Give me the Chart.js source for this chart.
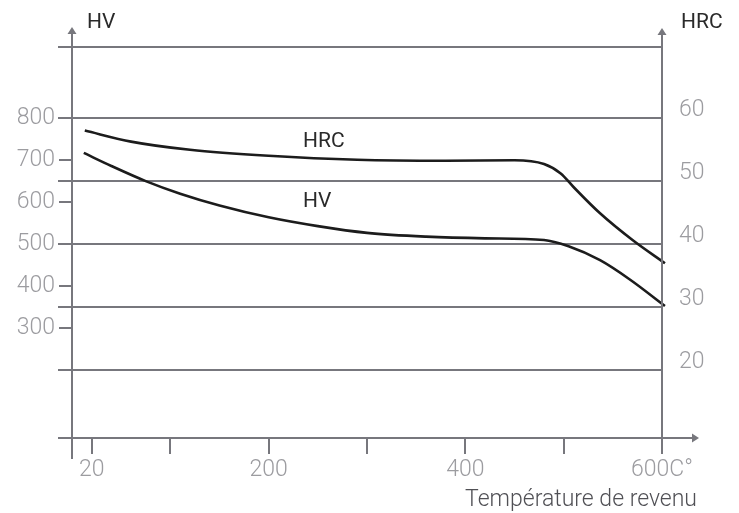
<!DOCTYPE html>
<html>
<head>
<meta charset="utf-8">
<script src="https://cdn.jsdelivr.net/npm/chart.js@4"></script>
<style>
  html, body { margin: 0; padding: 0; background: #fff; }
  canvas { display: block; }
</style>
</head>
<body>
<canvas id="chart" width="739" height="513"></canvas>
<script>
// HRC curve (right axis)
const hrcTemps  = [13, 60, 120, 200, 290, 380, 450, 480, 497, 510, 537, 570, 603];
const hrcValues = [58.0, 56.25, 54.95, 54.0, 53.37, 53.22, 53.3, 52.7, 51.2, 49.05, 44.87, 40.63, 36.94];

// HV curve (left axis)
const hvTemps  = [12, 40, 75, 110, 150, 200, 250, 300, 360, 420, 480, 505, 537, 568, 603];
const hvValues = [717, 686, 650, 620, 592, 564, 543, 527, 518, 514, 510, 495, 462, 415, 353];

// axis ticks
const xTicks = [20, 100, 200, 300, 400, 500, 600];
const xLabels = ['20', '', '200', '', '400', '', '600C°'];
const hvTicks = [300, 400, 500, 600, 700, 800];
const hrcTicks = [20, 30, 40, 50, 60];

// where the curve names sit (temperature, value)
const hrcNameAt = { x: 235, y: 55.44 };
const hvNameAt = { x: 235, y: 588 };

const AXIS = '#77777d';
const LABEL = '#9c9ca0';
const INK = '#1c1c1c';
const FONT = 'Roboto, "Open Sans", "DejaVu Sans", sans-serif';

function arrow(ctx, x, y, dir) {
    ctx.beginPath();
    if (dir === 'up') {
        ctx.moveTo(x, y);
        ctx.lineTo(x - 4.5, y + 7);
        ctx.lineTo(x + 4.5, y + 7);
    } else {
        ctx.moveTo(x, y);
        ctx.lineTo(x - 7, y - 4.5);
        ctx.lineTo(x - 7, y + 4.5);
    }
    ctx.closePath();
    ctx.fill();
}

// Axis lines, arrows, grid stubs and free text
const frame = {
    id: 'frame',
    afterDraw(chart) {
        const ctx = chart.ctx;
        const area = chart.chartArea;
        const x = chart.scales.x;
        const hrc = chart.scales.hrc;
        const hv = chart.scales.hv;
        const x0 = x.getPixelForValue(0);
        const x600 = x.getPixelForValue(600);

        ctx.save();
        ctx.strokeStyle = AXIS;
        ctx.fillStyle = AXIS;
        ctx.lineWidth = 2;

        // grid stubs to the left of the HV axis
        hrc.ticks.forEach(t => {
            const y = hrc.getPixelForValue(t.value);
            ctx.beginPath();
            ctx.moveTo(58, y);
            ctx.lineTo(area.left, y);
            ctx.stroke();
        });

        // vertical axes
        ctx.beginPath();
        ctx.moveTo(x0, area.bottom + 21);
        ctx.lineTo(x0, area.top - 18);
        ctx.moveTo(x600, area.bottom);
        ctx.lineTo(x600, area.top - 17);
        // horizontal axis
        ctx.moveTo(58, area.bottom);
        ctx.lineTo(692, area.bottom);
        ctx.stroke();

        arrow(ctx, x0, area.top - 20, 'up');
        arrow(ctx, x600, area.top - 19, 'up');
        arrow(ctx, 699, area.bottom, 'right');

        // titles
        ctx.fillStyle = '#2a2a2a';
        ctx.font = '400 21px ' + FONT;
        ctx.textBaseline = 'alphabetic';
        ctx.textAlign = 'left';
        ctx.fillText('HV', 87, 28);
        ctx.fillText('HRC', 681, 28);

        ctx.fillText('HRC', x.getPixelForValue(hrcNameAt.x), hrc.getPixelForValue(hrcNameAt.y));
        ctx.fillText('HV', x.getPixelForValue(hvNameAt.x), hv.getPixelForValue(hvNameAt.y));

        ctx.fillStyle = '#505055';
        ctx.font = '300 23px ' + FONT;
        ctx.textAlign = 'right';
        ctx.fillText('Température de revenu', 697, 506);
        ctx.restore();
    }
};

function toPoints(xs, ys) {
    return xs.map((t, i) => ({ x: t, y: ys[i] }));
}

new Chart(document.getElementById('chart'), {
    type: 'line',
    data: {
        datasets: [{
            label: 'HRC',
            data: toPoints(hrcTemps, hrcValues),
            yAxisID: 'hrc',
            borderColor: INK,
            borderWidth: 2.6,
            pointRadius: 0,
            cubicInterpolationMode: 'monotone',
            clip: 10
        }, {
            label: 'HV',
            data: toPoints(hvTemps, hvValues),
            yAxisID: 'hv',
            borderColor: INK,
            borderWidth: 2.6,
            pointRadius: 0,
            cubicInterpolationMode: 'monotone',
            clip: 10
        }]
    },
    options: {
        responsive: false,
        animation: false,
        devicePixelRatio: 1,
        layout: { padding: { top: 47, left: 0, right: 0, bottom: 0 } },
        plugins: {
            legend: { display: false },
            tooltip: { enabled: false }
        },
        scales: {
            x: {
                type: 'linear',
                min: 0,
                max: 600,
                afterBuildTicks: s => { s.ticks = xTicks.map(v => ({ value: v })); },
                ticks: {
                    callback: (v, i) => xLabels[i],
                    autoSkip: false,
                    maxRotation: 0,
                    color: LABEL,
                    padding: 2,
                    font: { family: FONT, size: 23, weight: 300 }
                },
                grid: { drawOnChartArea: false, tickLength: 16, color: AXIS, lineWidth: 2 },
                border: { display: false },
                afterFit: s => { s.height = 75; }
            },
            hv: {
                type: 'linear',
                position: 'left',
                min: 39.4,
                max: 968.8,
                afterBuildTicks: s => { s.ticks = hvTicks.map(v => ({ value: v })); },
                ticks: {
                    callback: v => String(v),
                    color: LABEL,
                    padding: 4,
                    font: { family: FONT, size: 23, weight: 300, lineHeight: 0.4 }
                },
                grid: { drawOnChartArea: false, tickLength: 13, color: AXIS, lineWidth: 2 },
                border: { display: false },
                afterFit: s => { s.width = 72; }
            },
            hrc: {
                type: 'linear',
                position: 'right',
                min: 9.21,
                max: 71.27,
                afterBuildTicks: s => {
                    s.ticks = hrcTicks.concat([s.max]).map(v => ({ value: v }));
                },
                ticks: {
                    callback: v => hrcTicks.includes(v) ? [String(v), ''] : '',
                    color: LABEL,
                    padding: 17,
                    font: { family: FONT, size: 23, weight: 300, lineHeight: 0.7 }
                },
                grid: { drawTicks: false, color: AXIS, lineWidth: 2 },
                border: { display: false },
                afterFit: s => { s.width = 77; }
            }
        }
    },
    plugins: [frame]
});
</script>
</body>
</html>
